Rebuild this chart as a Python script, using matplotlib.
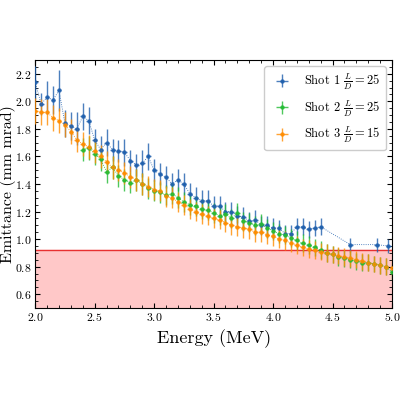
import numpy as np
import matplotlib
matplotlib.use("Agg")
import matplotlib.pyplot as plt

plt.rcParams['font.family'] = ['cmr10', 'DejaVu Serif']
plt.rcParams['mathtext.fontset'] = 'cm'
plt.rcParams['axes.formatter.use_mathtext'] = True

x1 = [2.0,2.05,2.1,2.15,2.2,2.25,2.3,2.35,2.4,2.45,2.5,2.55,2.6,2.65,2.7,2.75,2.8,2.85,2.9,2.95,3.0,3.05,3.1,3.15,3.2,3.25,3.3,3.35,3.4,3.45,3.5,3.55,3.6,3.65,3.7,3.75,3.8,3.85,3.9,3.95,4.0,4.05,4.1,4.15,4.2,4.25,4.3,4.35,4.4,4.65,4.87,4.97]
y1 = [2.14,1.98,2.03,2.01,2.08,1.84,1.82,1.80,1.89,1.86,1.72,1.65,1.70,1.65,1.64,1.63,1.57,1.54,1.55,1.60,1.50,1.47,1.45,1.40,1.43,1.40,1.33,1.30,1.28,1.28,1.24,1.24,1.20,1.20,1.17,1.16,1.13,1.14,1.10,1.10,1.08,1.08,1.04,1.04,1.09,1.09,1.07,1.08,1.09,0.96,0.96,0.95]
e1 = [0.12,0.08,0.12,0.1,0.15,0.1,0.1,0.12,0.1,0.1,0.08,0.1,0.1,0.08,0.08,0.1,0.08,0.08,0.1,0.1,0.08,0.08,0.08,0.08,0.08,0.08,0.08,0.08,0.08,0.08,0.07,0.07,0.07,0.07,0.07,0.07,0.07,0.07,0.07,0.07,0.07,0.06,0.06,0.06,0.06,0.06,0.06,0.06,0.06,0.05,0.05,0.05]

x2 = list(np.round(np.arange(2.4, 5.001, 0.05), 2))
y2 = [1.65,1.66,1.62,1.58,1.49,1.52,1.46,1.43,1.41,1.43,1.40,1.37,1.35,1.34,1.32,1.33,1.30,1.27,1.25,1.24,1.22,1.21,1.19,1.17,1.18,1.15,1.19,1.13,1.12,1.10,1.11,1.08,1.06,1.04,1.03,1.01,0.99,0.97,0.96,0.94,0.92,0.90,0.89,0.87,0.86,0.85,0.84,0.83,0.83,0.82,0.81,0.80,0.76]

x3 = list(np.round(np.arange(2.0, 5.001, 0.05), 2))
y3 = [1.93,1.92,1.92,1.88,1.86,1.83,1.78,1.72,1.69,1.67,1.64,1.60,1.56,1.52,1.50,1.48,1.45,1.43,1.40,1.38,1.36,1.35,1.31,1.30,1.27,1.25,1.22,1.20,1.18,1.17,1.15,1.14,1.12,1.10,1.09,1.08,1.07,1.05,1.05,1.03,1.02,1.00,0.99,0.97,0.96,0.94,0.93,0.92,0.91,0.90,0.89,0.88,0.87,0.86,0.85,0.84,0.83,0.82,0.81,0.80,0.79]

threshold = 0.92
labels = [r'Shot 1 $\frac{L}{D}=25$', r'Shot 2 $\frac{L}{D}=25$', r'Shot 3 $\frac{L}{D}=15$']
colors = ['#1f5fad', '#22bb33', '#ff8c00']

fig, ax = plt.subplots(figsize=(4, 4), dpi=100)
ax.axhspan(0.5, threshold, color='#ffc8c8', zorder=0)
ax.axhline(threshold, color='#e83030', lw=1, zorder=1)

series = [(x1, y1, e1), (x2, y2, None), (x3, y3, None)]
for (xs, ys, es), c, lab in zip(series, colors, labels):
    ys = np.array(ys)
    es = np.array(es) if es is not None else 0.06 + 0.03 * (ys - 0.8)
    ax.plot(xs, ys, ls=':', lw=0.6, color=c, zorder=2)
    ax.errorbar(xs, ys, yerr=es, xerr=0.02, fmt='o', ms=2.2, color=c,
                elinewidth=1.0, capsize=0, alpha=0.8, label=lab, zorder=3)

ax.set_xlim(2.0, 5.0)
ax.set_ylim(0.5, 2.3)
ax.set_xticks([2.0, 2.5, 3.0, 3.5, 4.0, 4.5, 5.0])
ax.set_yticks([0.6, 0.8, 1.0, 1.2, 1.4, 1.6, 1.8, 2.0, 2.2])
ax.minorticks_on()
ax.tick_params(which='both', direction='in', top=True, right=True, labelsize=8.5, pad=2.5)
ax.set_xlabel('Energy (MeV)', fontsize=13)
ax.set_ylabel('Emittance (mm mrad)', fontsize=11.5, va='top')
ax.yaxis.set_label_coords(-0.098, 0.5)
ax.legend(loc='upper right', fontsize=9, framealpha=1)
fig.subplots_adjust(left=0.088, right=0.98, top=0.85, bottom=0.23)
fig.savefig('out.png')
